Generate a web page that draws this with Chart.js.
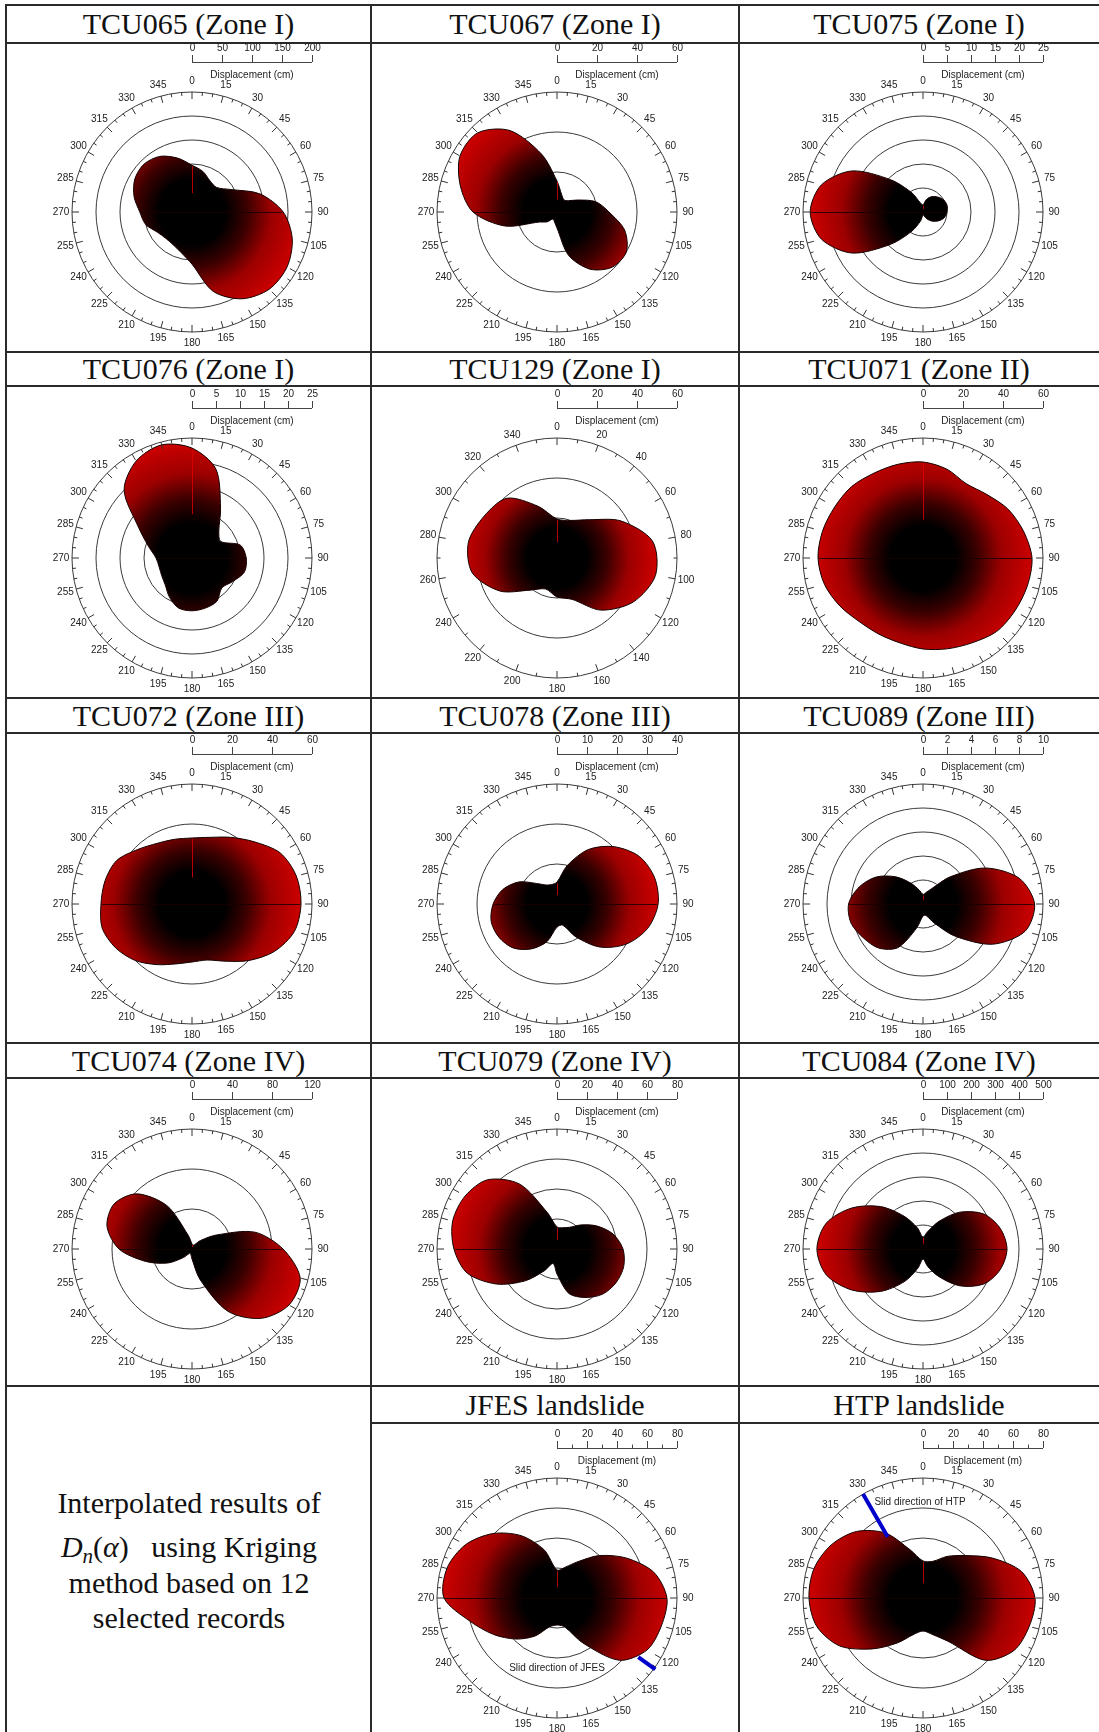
<!DOCTYPE html>
<html><head><meta charset="utf-8">
<script src="https://cdn.jsdelivr.net/npm/chart.js@4.4.1/dist/chart.umd.min.js"></script>
<style>
html,body{margin:0;padding:0;background:#fff;}
#page{position:relative;width:1099px;height:1732px;overflow:hidden;background:#fff;}
.hl{position:absolute;height:2px;background:#2a2a2a;}
.vl{position:absolute;width:2px;background:#2a2a2a;}
.title{position:absolute;font-family:"Liberation Serif","Times New Roman",serif;font-size:30px;color:#111;text-align:center;white-space:nowrap;}
.note{position:absolute;left:7px;width:364px;text-align:center;font-family:"Liberation Serif","Times New Roman",serif;font-size:30px;color:#111;height:40px;line-height:40px;white-space:nowrap;}
.note sub{font-size:21px;line-height:0;vertical-align:-6px;font-style:italic;}
canvas{position:absolute;}
</style></head>
<body><div id="page"></div>
<script>
// ---------- angle labels (compass degrees) ----------
const ANGLES_15 = ['0','15','30','45','60','75','90','105','120','135','150','165','180','195','210','225','240','255','270','285','300','315','330','345'];
const ANGLES_20 = ['0','20','40','60','80','100','120','140','160','180','200','220','240','260','280','300','320','340'];

// ---------- displacement D_n(alpha) ----------
const TCU065 = [78,70,60,58,75,117,152,173,183,182,167,137,87,70,63,62,67,80,87,100,110,113,107,93];
const TCU067 = [15.5,9,7,8,12,20,26,35,40,39,33,22.5,8,5,4,7,10,27,42,50,56,56,47,30];
const TCU075 = [1.5,2.7,3.7,4.4,5,5.2,5,4.6,3.7,2.7,1.7,0.8,0.6,1.9,4.6,9.5,17.1,21.9,23.5,21.9,17.1,9.5,4.6,1.9];
const TCU076 = [22.9,19.2,11.9,7.9,6.9,10.4,11.3,11.3,9.8,8.8,10.4,10.8,11,10.8,9.4,7.9,7.3,7.1,7.5,9.4,12.9,20,23.3,24.4];
const TCU129 = [19.5,20,25,37,48.5,50,44,34,22,19.5,16.5,21,33,43,45,42,39,27.5];
const TCU071 = [48,46,43,45,49,52,54.5,54,53,52,49,47,45.5,44,44,45,48,51,52.5,52,51,50.5,49,48.5];
const TCU072 = [33,34.5,38.5,44,51,54,54.5,53,47.5,40,33,29,29,31,35,40,44,46.5,45.5,45,43.5,38.5,35,33.5];
const TCU078 = [7.3,13.3,21,27,31.7,33.7,33.7,31.3,26.7,20.3,12.7,7.3,7.7,13,17.3,20.7,22.3,22.7,21.3,18.7,14.7,9.7,7.3,6.7];
const TCU089 = [0.8,1,1.5,3.2,6,8.3,9.3,8.8,6.7,3.8,1.8,1,1,2.1,4.2,5.2,5.7,6.2,6.2,5.5,4.5,3.2,2,1.2];
const TCU074 = [5,4,5,12,28,65,91,112,112,98,72,32,10,5,5,12,28,48,73,88,90,78,50,14];
const TCU079 = [14.7,14.7,16.7,22.7,30.7,38.7,44,46,45.3,42.7,37.3,30.7,16.7,10,16.7,30,46.7,62,68.7,72,70.7,65.3,50,25.3];
const TCU084 = [50,75,133,217,292,333,350,333,292,217,133,75,42,83,158,250,342,417,442,417,342,250,158,92];
const JFES = [18.7,21.3,28,40,53.3,66.7,73.3,72,69.3,58.7,34.7,20,18,20,29.3,38.7,48.7,60,75.3,76,70.7,60.7,48,33.3];
const HTP = [24.7,25.3,32,40,53.3,68,74.7,73.3,70,58.7,33.3,25.3,22,25.3,34.7,48,64,73.3,76,75.3,70.7,62.7,50,33.3];

// ---------- displacement scale bar tick labels ----------
const BAR_TCU065 = [0,50,100,150,200];
const BAR_TCU067 = [0,20,40,60];
const BAR_TCU075 = [0,5,10,15,20,25];
const BAR_TCU076 = [0,5,10,15,20,25];
const BAR_TCU129 = [0,20,40,60];
const BAR_TCU071 = [0,20,40,60];
const BAR_TCU072 = [0,20,40,60];
const BAR_TCU078 = [0,10,20,30,40];
const BAR_TCU089 = [0,2,4,6,8,10];
const BAR_TCU074 = [0,40,80,120];
const BAR_TCU079 = [0,20,40,60,80];
const BAR_TCU084 = [0,100,200,300,400,500];
const BAR_LANDSLIDE = [0,20,40,60,80];
const BAR_LANDSLIDE_MINOR = [10,30,50,70];

// ---------- slide directions: [azimuth deg, from value, to value] ----------
const SLIDE_JFES = [126, 67, 81];
const SLIDE_HTP = [330, 47, 80];

// ---------- panels ----------
const PLOTS = [
  {title:'TCU065 (Zone I)',  row:0, col:0, labels:ANGLES_15, data:TCU065, bar:BAR_TCU065, rings:5, unit:'cm'},
  {title:'TCU067 (Zone I)',  row:0, col:1, labels:ANGLES_15, data:TCU067, bar:BAR_TCU067, rings:3, unit:'cm'},
  {title:'TCU075 (Zone I)',  row:0, col:2, labels:ANGLES_15, data:TCU075, bar:BAR_TCU075, rings:5, unit:'cm'},
  {title:'TCU076 (Zone I)',  row:1, col:0, labels:ANGLES_15, data:TCU076, bar:BAR_TCU076, rings:5, unit:'cm'},
  {title:'TCU129 (Zone I)',  row:1, col:1, labels:ANGLES_20, data:TCU129, bar:BAR_TCU129, rings:3, unit:'cm'},
  {title:'TCU071 (Zone II)', row:1, col:2, labels:ANGLES_15, data:TCU071, bar:BAR_TCU071, rings:3, unit:'cm'},
  {title:'TCU072 (Zone III)',row:2, col:0, labels:ANGLES_15, data:TCU072, bar:BAR_TCU072, rings:3, unit:'cm'},
  {title:'TCU078 (Zone III)',row:2, col:1, labels:ANGLES_15, data:TCU078, bar:BAR_TCU078, rings:3, unit:'cm'},
  {title:'TCU089 (Zone III)',row:2, col:2, labels:ANGLES_15, data:TCU089, bar:BAR_TCU089, rings:5, unit:'cm'},
  {title:'TCU074 (Zone IV)', row:3, col:0, labels:ANGLES_15, data:TCU074, bar:BAR_TCU074, rings:3, unit:'cm'},
  {title:'TCU079 (Zone IV)', row:3, col:1, labels:ANGLES_15, data:TCU079, bar:BAR_TCU079, rings:4, unit:'cm'},
  {title:'TCU084 (Zone IV)', row:3, col:2, labels:ANGLES_15, data:TCU084, bar:BAR_TCU084, rings:5, unit:'cm'},
  {title:'JFES landslide',   row:4, col:1, labels:ANGLES_15, data:JFES, bar:BAR_LANDSLIDE, barMinor:BAR_LANDSLIDE_MINOR, rings:4, unit:'m',
     slide:SLIDE_JFES, slideText:'Slid direction of JFES', slideDx:0, slideDy:70},
  {title:'HTP landslide',    row:4, col:2, labels:ANGLES_15, data:HTP, bar:BAR_LANDSLIDE, barMinor:BAR_LANDSLIDE_MINOR, rings:4, unit:'m',
     slide:SLIDE_HTP, slideText:'Slid direction of HTP', slideDx:-3, slideDy:-96}
];

// ---------- layout ----------
const page = document.getElementById('page');
const ROW_TOP = [5, 352, 698, 1043, 1386];
const ROW_TITLE_BOTTOM = [43, 386, 733, 1078, 1423];
const COL_LEFT = [6, 371, 739];
const COL_W = [365, 368, 360];
const CX = [192, 557, 923];
const CY = [212, 558, 904, 1249, 1598];

function addDiv(cls, css, html) {
  const d = document.createElement('div');
  d.className = cls; Object.assign(d.style, css);
  if (html !== undefined) d.innerHTML = html;
  page.appendChild(d); return d;
}
// table lines
ROW_TOP.forEach(y => addDiv('hl', {left:'5px', top:(y-1)+'px', width:'1094px'}));
ROW_TITLE_BOTTOM.forEach((y, i) => {
  const x0 = i === 4 ? 370 : 5;
  addDiv('hl', {left:x0+'px', top:(y-1)+'px', width:(1099-x0)+'px'});
});
[5, 370, 738].forEach(x => addDiv('vl', {left:x+'px', top:'4px', height:'1728px'}));

// titles
PLOTS.forEach(p => {
  const h = ROW_TITLE_BOTTOM[p.row] - ROW_TOP[p.row];
  addDiv('title', {left:COL_LEFT[p.col]+'px', width:COL_W[p.col]+'px', top:ROW_TOP[p.row]+'px', height:h+'px', lineHeight:h+'px'}, p.title);
});
// note cell
addDiv('note', {top:'1483px'}, 'Interpolated results of');
addDiv('note', {top:'1527px'}, '<i>D</i><sub>n</sub>(<i>&alpha;</i>)&nbsp;&nbsp; using Kriging');
addDiv('note', {top:'1563px'}, 'method based on 12');
addDiv('note', {top:'1598px'}, 'selected records');

// ---------- chart helpers ----------
const SANS = '"Liberation Sans", Arial, Helvetica, sans-serif';

function lobeFill(context) {
  const chart = context.chart;
  const s = chart.scales && chart.scales.r;
  if (!s || !isFinite(s.xCenter) || !s.drawingArea) return '#700000';
  const vals = chart.data.datasets[0].data;
  const rm = Math.max(4, s.getDistanceFromCenterForValue(Math.max.apply(null, vals)));
  const g = chart.ctx.createRadialGradient(s.xCenter, s.yCenter, 0, s.xCenter, s.yCenter, rm);
  g.addColorStop(0, '#000000');
  g.addColorStop(0.3, '#000000');
  g.addColorStop(0.5, '#3a0000');
  g.addColorStop(0.72, '#9c0000');
  g.addColorStop(1, '#cc0000');
  return g;
}

const polarDecor = {
  id: 'polarDecor',
  afterDatasetsDraw(chart) {
    // axis artefacts inside the rose (dark E-W line, red N line), taken from the data edge
    const s = chart.scales.r, ctx = chart.ctx;
    const d = chart.data.datasets[0].data, n = d.length;
    const iE = n / 4, iW = 3 * n / 4;
    const pE = s.getPointPosition(iE, s.getDistanceFromCenterForValue(d[iE]) - 1);
    const pW = s.getPointPosition(iW, s.getDistanceFromCenterForValue(d[iW]) - 1);
    ctx.save();
    ctx.strokeStyle = 'rgba(25,0,0,0.85)'; ctx.lineWidth = 1;
    ctx.beginPath(); ctx.moveTo(pW.x, Math.round(pW.y) + 0.5); ctx.lineTo(pE.x, Math.round(pE.y) + 0.5); ctx.stroke();
    const rN = s.getDistanceFromCenterForValue(d[0]);
    const p1 = s.getPointPosition(0, rN * 0.4), p2 = s.getPointPosition(0, rN - 1);
    ctx.strokeStyle = 'rgba(225,0,0,0.8)';
    ctx.beginPath(); ctx.moveTo(Math.round(p1.x) + 0.5, p1.y); ctx.lineTo(Math.round(p2.x) + 0.5, p2.y); ctx.stroke();
    ctx.restore();
  },
  afterDraw(chart, args, o) {
    const s = chart.scales.r, ctx = chart.ctx;
    const cx = s.xCenter, cy = s.yCenter, R = s.drawingArea;
    const labels = chart.data.labels;
    const labelStep = 360 / labels.length;
    const minorStep = labelStep === 20 ? 10 : 5;
    const rad = d => d * Math.PI / 180;
    ctx.save();
    // azimuth ticks on the outer circle
    ctx.strokeStyle = '#333'; ctx.lineWidth = 1;
    for (let a = 0; a < 360; a += minorStep) {
      const len = (a % labelStep === 0) ? 7 : 3.5;
      const p1 = s.getPointPosition(0, R, rad(a));
      const p2 = s.getPointPosition(0, R - len, rad(a));
      ctx.beginPath(); ctx.moveTo(p1.x, p1.y); ctx.lineTo(p2.x, p2.y); ctx.stroke();
    }
    // azimuth labels
    ctx.fillStyle = '#222'; ctx.font = '10px ' + SANS;
    ctx.textAlign = 'center'; ctx.textBaseline = 'middle';
    labels.forEach((lab, i) => {
      const p = s.getPointPosition(i, R + 11);
      ctx.fillText(lab, p.x, p.y);
    });
    // displacement scale bar
    const yb = cy - 150;
    const xEnd = cx + s.getDistanceFromCenterForValue(s.max);
    ctx.strokeStyle = '#444';
    ctx.beginPath(); ctx.moveTo(cx, yb + 0.5); ctx.lineTo(xEnd, yb + 0.5); ctx.stroke();
    o.bar.forEach(v => {
      const x = Math.round(cx + s.getDistanceFromCenterForValue(v)) + 0.5;
      ctx.beginPath(); ctx.moveTo(x, yb); ctx.lineTo(x, yb - 7); ctx.stroke();
      ctx.fillText(String(v), x, cy - 164);
    });
    (o.barMinor || []).forEach(v => {
      const x = Math.round(cx + s.getDistanceFromCenterForValue(v)) + 0.5;
      ctx.beginPath(); ctx.moveTo(x, yb); ctx.lineTo(x, yb - 3.5); ctx.stroke();
    });
    ctx.fillText('Displacement (' + o.unit + ')', (cx + xEnd) / 2, cy - 137);
    // slide direction
    if (o.slide) {
      const a = rad(o.slide[0]);
      const p1 = s.getPointPosition(0, s.getDistanceFromCenterForValue(o.slide[1]), a);
      const p2 = s.getPointPosition(0, s.getDistanceFromCenterForValue(o.slide[2]), a);
      ctx.strokeStyle = '#0000cc'; ctx.lineWidth = 4; ctx.lineCap = 'butt';
      ctx.beginPath(); ctx.moveTo(p1.x, p1.y); ctx.lineTo(p2.x, p2.y); ctx.stroke();
      ctx.fillStyle = '#222';
      ctx.fillText(o.slideText, cx + o.slideDx, cy + o.slideDy);
    }
    ctx.restore();
  }
};

const CW = 360, CH = 316, PAD = {left:65, right:55, top:52, bottom:24};
PLOTS.forEach(p => {
  const cv = document.createElement('canvas');
  cv.width = CW; cv.height = CH;
  cv.style.width = CW + 'px'; cv.style.height = CH + 'px';
  cv.style.left = (CX[p.col] - PAD.left - 120) + 'px';
  cv.style.top = (CY[p.row] - PAD.top - 120) + 'px';
  page.appendChild(cv);
  const max = p.bar[p.bar.length - 1];
  new Chart(cv.getContext('2d'), {
    type: 'radar',
    data: {
      labels: p.labels,
      datasets: [{
        data: p.data,
        fill: true,
        backgroundColor: lobeFill,
        borderColor: '#150000',
        borderWidth: 1,
        pointRadius: 0,
        pointHoverRadius: 0,
        tension: 0.3
      }]
    },
    options: {
      responsive: false,
      animation: false,
      devicePixelRatio: 1,
      events: [],
      layout: {padding: PAD},
      plugins: {
        legend: {display: false},
        tooltip: {enabled: false},
        polarDecor: {bar: p.bar, barMinor: p.barMinor, unit: p.unit, slide: p.slide,
                     slideText: p.slideText, slideDx: p.slideDx, slideDy: p.slideDy}
      },
      scales: {
        r: {
          min: 0, max: max, z: 1, startAngle: 0,
          angleLines: {display: false},
          grid: {circular: true, color: '#3a3a3a', lineWidth: 1},
          ticks: {display: false, count: p.rings + 1},
          pointLabels: {display: false}
        }
      }
    },
    plugins: [polarDecor]
  });
});
</script>
</body></html>
